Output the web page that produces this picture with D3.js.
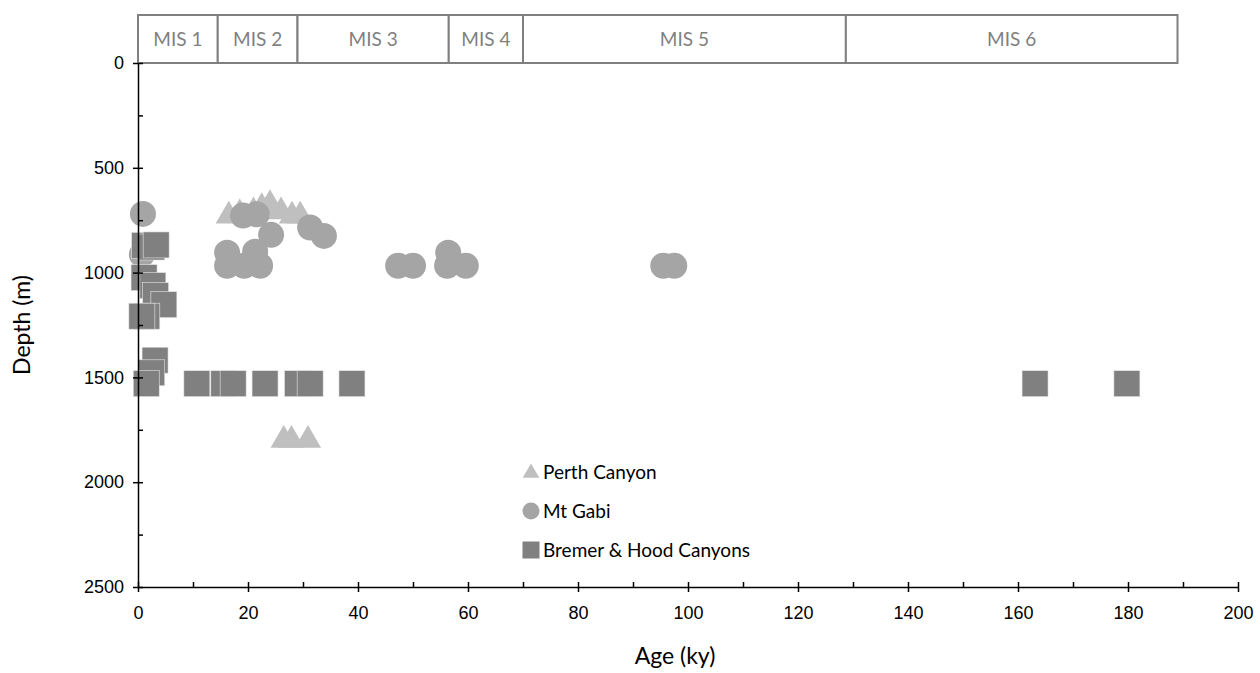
<!DOCTYPE html>
<html>
<head>
<meta charset="utf-8">
<script src="https://cdn.jsdelivr.net/npm/d3@7"></script>
<style>
  body { margin: 0; background: #fff; }
  svg { display: block; }
</style>
</head>
<body>
<div id="chart"></div>
<script>
// Marine isotope stages (age boundaries, ky)
const misNames = ["MIS 1", "MIS 2", "MIS 3", "MIS 4", "MIS 5", "MIS 6"];
const misBounds = [0, 14.5, 29, 56.5, 70, 128.7, 189];

// [age (ky), depth (m)]
const perthCanyon = [
  [16.5, 720], [18.5, 710], [21, 700], [22.5, 680], [24, 665], [26, 700], [28, 720], [29.5, 720],
  [26.5, 1790], [27.9, 1790], [30.9, 1790]
];
const mtGabi = [
  [0.9, 720], [0.7, 914],
  [19.1, 728], [21.6, 722],
  [16.2, 905], [21.3, 900], [16.2, 967], [19.3, 967], [22.2, 967],
  [24.2, 820], [31.3, 785], [33.8, 825],
  [47.3, 967], [50, 967], [56.4, 905], [56.2, 967], [59.6, 967],
  [95.5, 967], [97.5, 967]
];
const bremerHood = [
  [1.2, 870], [2.5, 878], [3.3, 868],
  [1.1, 1024], [2.7, 1062], [3.2, 1110], [4.7, 1153], [1.6, 1208], [0.7, 1208],
  [3.1, 1418], [2.5, 1478], [1.5, 1530],
  [10.7, 1530], [15.6, 1530], [17.3, 1530], [23.1, 1530], [29, 1530], [31.3, 1530], [38.9, 1530],
  [163.1, 1530], [179.8, 1530]
];

const seriesNames = ["Perth Canyon", "Mt Gabi", "Bremer & Hood Canyons"];
const seriesColors = ["#bfbfbf", "#a5a5a5", "#808080"];

const xTicks = d3.range(0, 201, 20);
const yTicks = d3.range(0, 2501, 500);

const width = 1260, height = 673;
const x = d3.scaleLinear().domain([0, 200]).range([138, 1238]);
const y = d3.scaleLinear().domain([0, 2500]).range([63, 587]);

const svg = d3.select("#chart").append("svg")
  .attr("width", width)
  .attr("height", height)
  .style("font-family", "Lato, 'Liberation Sans', sans-serif");

// MIS band along the top
const misTop = 15, misBottom = y(0);
const mis = svg.append("g");
misNames.forEach((name, i) => {
  const x0 = x(misBounds[i]), x1 = x(misBounds[i + 1]);
  mis.append("rect")
    .attr("x", x0).attr("y", misTop)
    .attr("width", x1 - x0).attr("height", misBottom - misTop)
    .attr("fill", "#fff").attr("stroke", "#7f7f7f").attr("stroke-width", 2);
  mis.append("text")
    .attr("x", (x0 + x1) / 2).attr("y", (misTop + misBottom) / 2)
    .attr("dy", "0.35em")
    .attr("text-anchor", "middle")
    .attr("fill", "#7f7f7f")
    .style("font-size", "19px")
    .text(name);
});

// markers
const triangle = d3.symbol().type(d3.symbolTriangle).size(300);
const plot = svg.append("g");

plot.append("g").selectAll("path")
  .data(perthCanyon)
  .join("path")
  .attr("d", triangle)
  .attr("transform", d => `translate(${x(d[0])},${y(d[1]) + 2})`)
  .attr("fill", seriesColors[0]);

plot.append("g").selectAll("circle")
  .data(mtGabi)
  .join("circle")
  .attr("cx", d => x(d[0]))
  .attr("cy", d => y(d[1]))
  .attr("r", 13)
  .attr("fill", seriesColors[1]);

plot.append("g").selectAll("rect")
  .data(bremerHood)
  .join("rect")
  .attr("x", d => x(d[0]) - 13)
  .attr("y", d => y(d[1]) - 13)
  .attr("width", 26).attr("height", 26)
  .attr("fill", seriesColors[2])
  .attr("stroke", "#e6e6e6").attr("stroke-width", 0.6);

// axes
const axisColor = "#000";
const gx = svg.append("g").attr("transform", `translate(0,${y(2500)})`)
  .call(d3.axisBottom(x).tickValues(xTicks).tickSize(5).tickSizeOuter(0).tickPadding(14));
gx.selectAll(".tick line").attr("y1", -5).attr("y2", 5);
svg.append("g").attr("transform", `translate(0,${y(2500)})`)
  .call(d3.axisBottom(x).tickValues(d3.range(10, 200, 20)).tickSize(-5).tickFormat(""))
  .call(g => g.select(".domain").remove());

const gy = svg.append("g").attr("transform", `translate(${x(0)},0)`)
  .call(d3.axisLeft(y).tickValues(yTicks).tickFormat(d3.format("d")).tickSize(5).tickSizeOuter(0).tickPadding(9));
gy.selectAll(".tick line").attr("x1", -5).attr("x2", 5);
svg.append("g").attr("transform", `translate(${x(0)},0)`)
  .call(d3.axisLeft(y).tickValues(d3.range(250, 2500, 500)).tickSize(-5).tickFormat(""))
  .call(g => g.select(".domain").remove());

svg.selectAll(".domain, .tick line").attr("stroke", axisColor).attr("stroke-width", 1.5);
svg.selectAll(".tick text")
  .attr("fill", "#000")
  .style("font-family", "'Liberation Sans', Arial, sans-serif")
  .style("font-size", "18px");

// axis titles
svg.append("text")
  .attr("x", 675).attr("y", 664)
  .attr("text-anchor", "middle")
  .style("font-size", "23px")
  .text("Age (ky)");
svg.append("text")
  .attr("transform", `translate(30,${y(1250)}) rotate(-90)`)
  .attr("text-anchor", "middle")
  .style("font-size", "23px")
  .text("Depth (m)");

// legend
const legend = svg.append("g").attr("transform", "translate(531,472)");
const legendRows = [0, 39, 78];
seriesNames.forEach((name, i) => {
  const row = legend.append("g").attr("transform", `translate(0,${legendRows[i]})`);
  if (i === 0) {
    row.append("path").attr("d", d3.symbol().type(d3.symbolTriangle).size(120)).attr("transform", "translate(0,1)").attr("fill", seriesColors[0]);
  } else if (i === 1) {
    row.append("circle").attr("r", 8.5).attr("fill", seriesColors[1]);
  } else {
    row.append("rect").attr("x", -8.5).attr("y", -8.5).attr("width", 17).attr("height", 17).attr("fill", seriesColors[2]);
  }
  row.append("text")
    .attr("x", 12).attr("dy", "0.35em")
    .style("font-size", "19px")
    .text(name);
});
</script>
</body>
</html>
